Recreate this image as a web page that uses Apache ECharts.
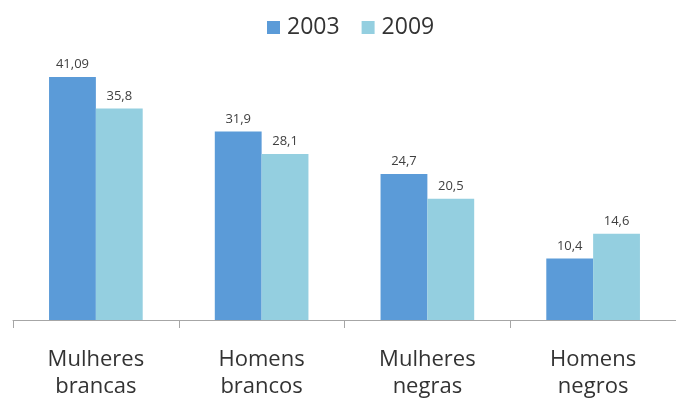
<!DOCTYPE html>
<html><head><meta charset="utf-8">
<script src="https://cdn.jsdelivr.net/npm/echarts@6/dist/echarts.min.js"></script>
<style>html,body{margin:0;padding:0;background:#fff}#c{width:676px;height:400px}</style>
</head><body><div id="c"></div>
<script>
const categories = ['Mulheres\nbrancas', 'Homens\nbrancos', 'Mulheres\nnegras', 'Homens\nnegros'];
const seriesNames = ['2003', '2009'];
const values2003 = [41.09, 31.9, 24.7, 10.4];
const values2009 = [35.8, 28.1, 20.5, 14.6];
const labels2003 = ['41,09', '31,9', '24,7', '10,4'];
const labels2009 = ['35,8', '28,1', '20,5', '14,6'];

const chart = echarts.init(document.getElementById('c'), null, {renderer: 'canvas'});
const font = 'Open Sans';
function mkSeries(name, vals, labs, color) {
  return {
    name: name, type: 'bar', data: vals, barGap: '0%', barCategoryGap: '43.5%',
    itemStyle: {color: color},
    label: {show: true, position: 'top', distance: 6, color: '#404040', fontFamily: font, fontSize: 13,
      formatter: p => labs[p.dataIndex]}
  };
}
chart.setOption({
  animation: false,
  legend: {top: 11, left: 262, itemWidth: 13, itemHeight: 13, itemGap: 22,
    textStyle: {fontFamily: font, fontSize: 23, color: '#333', padding: [0, 0, 0, 2]}, icon: 'rect'},
  grid: {left: 13, right: -4, top: 54, bottom: 80, containLabel: false},
  xAxis: {type: 'category', data: categories,
    axisLine: {lineStyle: {color: '#a6a6a6', width: 1}},
    axisTick: {show: true, length: 8, lineStyle: {color: '#a6a6a6'}},
    axisLabel: {fontFamily: font, fontSize: 22, color: '#333', lineHeight: 27, margin: 26}},
  yAxis: {type: 'value', min: 0, max: 45, show: false, splitLine: {show: false}},
  series: [
    mkSeries(seriesNames[0], values2003, labels2003, '#5b9bd8'),
    mkSeries(seriesNames[1], values2009, labels2009, '#94cfe0')
  ]
});
</script></body></html>
